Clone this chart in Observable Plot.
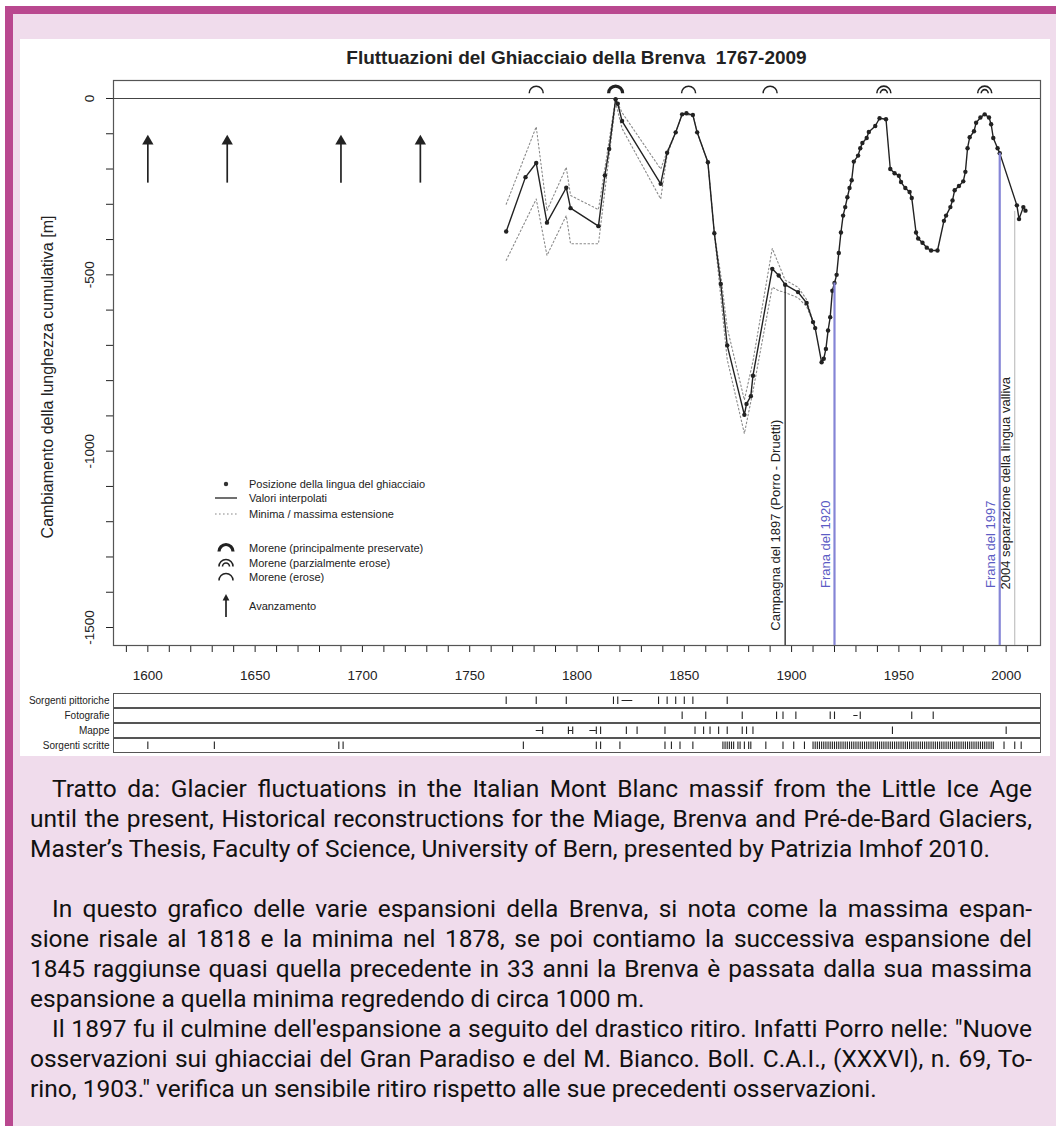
<!DOCTYPE html>
<html lang="it">
<head>
<meta charset="utf-8">
<title>Fluttuazioni del Ghiacciaio della Brenva 1767-2009</title>
<script src="https://cdn.jsdelivr.net/npm/d3@7"></script>
<script src="https://cdn.jsdelivr.net/npm/@observablehq/plot@0.6"></script>
<style>
  html, body { margin:0; padding:0; background:#fff; }
  body { position:relative; width:1056px; height:1126px; overflow:hidden; font-family:"Liberation Sans", Arial, sans-serif; color:#222; }
  .abs { position:absolute; }
  #barTop { left:5px; top:6px; width:1051px; height:8px; background:#b9488f; }
  #barLeft { left:5px; top:6px; width:8px; height:1120px; background:#b9488f; }
  #pink { left:13px; top:14px; width:1043px; height:1112px; background:#f0dcec; }
  #white { left:20px; top:39px; width:1030px; height:717px; background:#fff; }
  #mainPlot { left:20px; top:39px; }
  #srcPlot { left:20px; top:689px; }
  #title { left:113px; top:47px; width:927px; text-align:center; font-size:19px; font-weight:bold; line-height:22px; color:#222; }
  #ylabel { left:48px; top:377px; transform:translate(-50%,-50%) rotate(-90deg); white-space:nowrap; font-size:16px; color:#222; }
  .leg { position:absolute; left:214px; height:14px; display:flex; align-items:center; font-size:11px; white-space:nowrap; color:#222; }
  .leg svg { width:24px; height:14px; margin-right:11px; flex:none; overflow:visible; }
  #notes { left:30px; top:774px; width:1002px; font-family:Roboto, "Noto Sans", sans-serif; font-size:24.5px; line-height:30px; color:#111; }
  #notes div { text-align:justify; text-align-last:justify; height:30px; white-space:nowrap; }
  #notes .ind { text-indent:22px; }
  #notes .last { text-align-last:left; }
</style>
</head>
<body>
<div id="barTop" class="abs"></div>
<div id="barLeft" class="abs"></div>
<div id="pink" class="abs"></div>
<div id="white" class="abs"></div>
<div id="mainPlot" class="abs"></div>
<div id="srcPlot" class="abs"></div>
<div id="title" class="abs">Fluttuazioni del Ghiacciaio della Brenva&nbsp; 1767-2009</div>
<div id="ylabel" class="abs">Cambiamento della lunghezza cumulativa [m]</div>
<div id="legend"></div>
<div id="notes" class="abs"></div>
<script>
// ---------------- DATA ----------------
const tongueYears = [1767,1776,1781,1786,1795,1797,1810,1813,1815,1818,
  1819,1821,1839,1842,1846,1849,1851,1854,1856,1861,
  1864,1867,1870,1878,1879,1881,1882,1891,1894,1897,
  1903,1907,1910,1911,1914,1915,1916,1917,1918,1919,
  1920,1921,1922,1923,1924,1925,1926,1927,1928,1929,
  1931,1932,1933,1935,1936,1939,1941,1944,1946,1948,
  1950,1951,1953,1955,1956,1958,1959,1961,1963,1965,
  1968,1971,1972,1974,1975,1976,1978,1980,1981,1982,
  1983,1985,1986,1988,1990,1992,1993,1994,1996,1997,
  2005,2006,2008,2009];
const tongueValues = [-377,-223,-183,-352,-253,-311,-362,-218,-143,-2,
  -15,-64,-242,-154,-96,-45,-42,-47,-96,-181,
  -382,-526,-700,-897,-866,-844,-786,-483,-502,-528,
  -549,-580,-634,-651,-748,-738,-710,-658,-620,-545,
  -523,-500,-438,-380,-332,-308,-280,-254,-232,-179,
  -162,-141,-126,-112,-95,-78,-56,-59,-200,-212,
  -219,-237,-254,-265,-282,-380,-397,-409,-423,-431,
  -431,-347,-332,-308,-289,-260,-248,-235,-208,-141,
  -110,-93,-69,-54,-45,-54,-73,-112,-141,-155,
  -303,-342,-308,-318];

const envelopeYears = [1767,1781,1786,1795,1797,1810,1818,1821,1839,1842,1846,1849,1854,1856,1861,1864,1867,1870,1878,1882,1891,1894,1897,1903,1907,1910];
const envelopeMax   = [-300,-80,-318,-195,-275,-315,0,-40,-200,-150,-96,-45,-47,-96,-181,-382,-500,-650,-855,-745,-425,-470,-515,-535,-570,-634];
const envelopeMin   = [-459,-285,-445,-332,-412,-412,-12,-85,-285,-160,-96,-45,-47,-96,-181,-382,-563,-740,-950,-830,-535,-545,-550,-565,-590,-634];

const moreneYears = [1781, 1818, 1852, 1890, 1943, 1990];
const moreneTypes = ["erose", "preservate", "erose", "erose", "parziali", "parziali"];

const advanceYears = [1600, 1637, 1690, 1727];

const eventYears  = [1897, 1920, 1997, 2004];
const eventTops   = [-528, -523, -155, -320];
const eventKinds  = ["campagna", "frana", "frana", "separazione"];
const eventLabels = ["Campagna del 1897 (Porro - Druetti)", "Frana del 1920", "Frana del 1997", "2004 separazione della lingua valliva"];

const xTicks = [1590,1600,1610,1620,1630,1640,1650,1660,1670,1680,1690,1700,1710,1720,1730,1740,1750,1760,1770,1780,1790,1800,1810,1820,1830,1840,1850,1860,1870,1880,1890,1900,1910,1920,1930,1940,1950,1960,1970,1980,1990,2000,2010];
const yTicks = [0,-100,-200,-300,-400,-500,-600,-700,-800,-900,-1000,-1100,-1200,-1300,-1400,-1500];

const sourceRows = ["Sorgenti pittoriche", "Fotografie", "Mappe", "Sorgenti scritte"];
const pittoricheYears = [1767,1781,1795,1817,1819,1838,1842,1846,1850,1854,1870];
const fotografieYears = [1849,1860,1877,1893,1896,1902,1918,1920,1932,1956,1966];
const mappeYears = [1784,1796,1798,1809,1811,1823,1828,1841,1855,1859,1862,1866,1870,1877,1879,1882,1947,2000];
const scritteYears = [1600,1631,1689,1691,1775,1809,1811,1820,1841,1844,1848,1854,
  1868,1869,1870,1871,1872,1873,1875,1876,1878,1880,1881,1888,1896,1901,1906,
  1910,1911,1912,1913,1914,1915,1916,1917,1918,1919,1920,1921,1922,1923,1924,1925,1926,1927,1928,1929,
  1930,1931,1932,1933,1934,1935,1936,1937,1938,1939,1940,1941,1942,1943,1944,1945,1946,1947,1948,1949,
  1950,1951,1952,1953,1954,1955,1956,1957,1958,1959,1960,1961,1962,1963,1964,1965,1966,1967,1968,1969,
  1970,1971,1972,1973,1974,1975,1976,1977,1978,1979,1980,1981,1982,1983,1984,1985,1986,1987,1988,1989,
  1990,1991,1992,1993,1994,1999,2004,2007];
const rangeRows   = ["Sorgenti pittoriche", "Fotografie", "Mappe", "Mappe", "Mappe"];
const rangeStarts = [1821, 1929, 1781, 1796, 1806];
const rangeEnds   = [1826, 1931, 1784, 1798, 1809];

const legendLabels = ["Posizione della lingua del ghiacciaio", "Valori interpolati", "Minima / massima estensione",
  "Morene (principalmente preservate)", "Morene (parzialmente erose)", "Morene (erose)", "Avanzamento"];
const legendKinds = ["dot", "line", "dotted", "preservate", "parziali", "erose", "arrow"];

const noteLines = [
  ["ind", "Tratto da: Glacier fluctuations in the Italian Mont Blanc massif from the Little Ice Age"],
  ["", "until the present, Historical reconstructions for the Miage, Brenva and Pré-de-Bard Glaciers,"],
  ["last", "Master’s Thesis, Faculty of Science, University of Bern, presented by Patrizia Imhof 2010."],
  ["last", "\u00a0"],
  ["ind", "In questo grafico delle varie espansioni della Brenva, si nota come la massima espan-"],
  ["", "sione risale al 1818 e la minima nel 1878, se poi contiamo la successiva espansione del"],
  ["", "1845 raggiunse quasi quella precedente in 33 anni la Brenva è passata dalla sua massima"],
  ["last", "espansione a quella minima regredendo di circa 1000 m."],
  ["ind", "Il 1897 fu il culmine dell'espansione a seguito del drastico ritiro. Infatti Porro nelle: \"Nuove"],
  ["", "osservazioni sui ghiacciai del Gran Paradiso e del M. Bianco. Boll. C.A.I., (XXXVI), n. 69, To-"],
  ["last", "rino, 1903.\" verifica un sensibile ritiro rispetto alle sue precedenti osservazioni."]
];

// ---------------- TABLES ----------------
const tongue = tongueYears.map((year, i) => ({year, value: tongueValues[i]}));
const envelope = envelopeYears.map((year, i) => ({year, max: envelopeMax[i], min: envelopeMin[i]}));
const morene = moreneYears.map((year, i) => ({year, type: moreneTypes[i]}));
const events = eventYears.map((year, i) => ({year, top: eventTops[i], kind: eventKinds[i], label: eventLabels[i]}));

// ---------------- STYLES ----------------
const X_DOMAIN = [1584, 2016];
const Y_DOMAIN = [-1551, 51];
const eventStyle = {
  campagna:    {line: "#222222", text: "#222222", width: 1.3, base: -1509},
  frana:       {line: "#8585d6", text: "#5c5cc4", width: 2.2, base: -1388},
  separazione: {line: "#b4b4b4", text: "#222222", width: 1.0, base: -1392}
};
const MORENE_Y = 25;
const ARROW_TAIL = -240, ARROW_SHAFT_TOP = -128, ARROW_HEAD = -121;

function arcAt(ctx, r, cy) { ctx.moveTo(-r, cy); ctx.arc(0, cy, r, Math.PI, 2 * Math.PI); }
const moreneSymbols = {
  preservate: {draw(ctx, size) { const r = Math.sqrt(size / Math.PI); arcAt(ctx, r, r / 2); }},
  parziali:   {draw(ctx, size) { const r = Math.sqrt(size / Math.PI); arcAt(ctx, r, r / 2); arcAt(ctx, r * 0.5, r / 2); }},
  erose:      {draw(ctx, size) { const r = Math.sqrt(size / Math.PI); arcAt(ctx, r, r / 2); }}
};
const moreneStroke = {preservate: 3.2, parziali: 1.6, erose: 1.5};

// ---------------- MAIN PLOT ----------------
const mainPlot = Plot.plot({
  width: 1030, height: 651,
  marginLeft: 93, marginRight: 10, marginTop: 41, marginBottom: 45,
  style: {fontFamily: "'Liberation Sans', Arial, sans-serif", fontSize: "13.5px", background: "transparent", color: "#222", overflow: "visible"},
  x: {domain: X_DOMAIN, ticks: xTicks, tickFormat: d => d % 50 === 0 ? String(d) : "", tickSize: 7, tickPadding: 18, label: null},
  y: {domain: Y_DOMAIN, ticks: yTicks, tickFormat: d => d % 500 === 0 ? String(d) : "", tickSize: 7, tickPadding: 13, tickRotate: -90, label: null},
  marks: [
    Plot.frame({stroke: "#555", strokeWidth: 1.2}),
    Plot.ruleY([0], {stroke: "#444", strokeWidth: 1.2}),
    Plot.line(envelope, {x: "year", y: "max", stroke: "#8a8a8a", strokeWidth: 1.1, strokeDasharray: "1.6,2.4"}),
    Plot.line(envelope, {x: "year", y: "min", stroke: "#8a8a8a", strokeWidth: 1.1, strokeDasharray: "1.6,2.4"}),
    Plot.line(tongue, {x: "year", y: "value", stroke: "#222", strokeWidth: 1.4}),
    Plot.dot(tongue, {x: "year", y: "value", r: 2.2, fill: "#222"}),
    Plot.ruleX(events, {x: "year", y1: "top", y2: Y_DOMAIN[0], stroke: d => eventStyle[d.kind].line, strokeWidth: d => eventStyle[d.kind].width}),
    Plot.text(events, {x: "year", y: d => eventStyle[d.kind].base, text: "label", rotate: -90, textAnchor: "start", dx: -9,
      fill: d => eventStyle[d.kind].text, fontSize: 13}),
    Plot.ruleX(advanceYears, {x: d => d, y1: ARROW_TAIL, y2: ARROW_SHAFT_TOP, stroke: "#222", strokeWidth: 1.7}),
    Plot.dot(advanceYears, {x: d => d, y: ARROW_HEAD, symbol: "triangle", r: 4.2, fill: "#222"}),
    ...Object.keys(moreneSymbols).map(kind =>
      Plot.dot(morene.filter(d => d.type === kind), {x: "year", y: MORENE_Y, symbol: moreneSymbols[kind], r: 7,
        fill: "none", stroke: "#222", strokeWidth: moreneStroke[kind]}))
  ]
});
document.getElementById("mainPlot").append(mainPlot);

// ---------------- SOURCES STRIP ----------------
const sourceTicks = [
  ...pittoricheYears.map(year => ({year, row: sourceRows[0]})),
  ...fotografieYears.map(year => ({year, row: sourceRows[1]})),
  ...mappeYears.map(year => ({year, row: sourceRows[2]})),
  ...scritteYears.map(year => ({year, row: sourceRows[3]}))
];
const sourceRanges = rangeRows.map((row, i) => ({row, start: rangeStarts[i], end: rangeEnds[i]}));

const srcPlot = Plot.plot({
  width: 1030, height: 67,
  marginLeft: 93, marginRight: 10, marginTop: 3, marginBottom: 4,
  style: {fontFamily: "'Liberation Sans', Arial, sans-serif", fontSize: "10px", background: "transparent", color: "#222"},
  x: {domain: X_DOMAIN, axis: null},
  y: {domain: [-1, 1], axis: null},
  fy: {domain: sourceRows, padding: 0.07, axis: "left", label: null, tickSize: 0, tickPadding: 4},
  marks: [
    Plot.frame({stroke: "#555", strokeWidth: 1}),
    Plot.tickX(sourceTicks, {x: "year", fy: "row", insetTop: 3.5, insetBottom: 3, stroke: "#222", strokeWidth: 1.1}),
    Plot.ruleY(sourceRanges, {x1: "start", x2: "end", y: 0, fy: "row", stroke: "#222", strokeWidth: 1})
  ]
});
document.getElementById("srcPlot").append(srcPlot);

// ---------------- LEGEND ----------------
const legendCenters = [484, 498, 514, 548, 563, 577, 606];
const legendSvg = {
  dot: '<circle cx="12" cy="7" r="2.2" fill="#333"/>',
  line: '<line x1="1" x2="23" y1="7" y2="7" stroke="#333" stroke-width="1.4"/>',
  dotted: '<line x1="1" x2="23" y1="7" y2="7" stroke="#888" stroke-width="1.1" stroke-dasharray="1.6,2.4"/>',
  preservate: '<path d="M5,10.5 A7,7 0 0 1 19,10.5" fill="none" stroke="#222" stroke-width="3.2"/>',
  parziali: '<path d="M5,10.5 A7,7 0 0 1 19,10.5 M8.5,10.5 A3.5,3.5 0 0 1 15.5,10.5" fill="none" stroke="#222" stroke-width="1.6"/>',
  erose: '<path d="M5,10.5 A7,7 0 0 1 19,10.5" fill="none" stroke="#222" stroke-width="1.5"/>',
  arrow: '<line x1="12" x2="12" y1="18" y2="-1" stroke="#222" stroke-width="1.7"/><polygon points="12,-5 8.6,1.5 15.4,1.5" fill="#222"/>'
};
const legend = document.getElementById("legend");
legendLabels.forEach((label, i) => {
  const row = document.createElement("div");
  row.className = "leg";
  row.style.top = (legendCenters[i] - 7) + "px";
  row.innerHTML = `<svg viewBox="0 0 24 14">${legendSvg[legendKinds[i]]}</svg><span>${label}</span>`;
  legend.append(row);
});

// ---------------- NOTES ----------------
const notes = document.getElementById("notes");
noteLines.forEach(([cls, text]) => {
  const d = document.createElement("div");
  d.className = cls;
  d.textContent = text;
  notes.append(d);
});
</script>
</body>
</html>
